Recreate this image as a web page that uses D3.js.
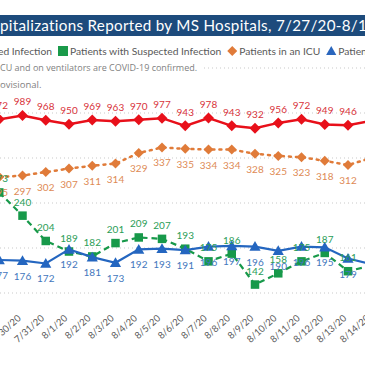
<!DOCTYPE html>
<html lang="en">
<head>
<meta charset="UTF-8">
<title>COVID-19 Hospitalizations</title>
<script src="https://d3js.org/d3.v7.min.js"></script>
<style>
    body { margin: 0; background: #fff; }
    svg { display: block; font-family: Lato, "Open Sans", sans-serif; }
    .grid line { stroke: #c9c9c9; stroke-width: 1; stroke-dasharray: 1,3; }
    .xlab { font-size: 9.5px; fill: #595959; }
    .vlab { font-size: 10px; text-anchor: middle; }
</style>
</head>
<body>
<svg width="365" height="365"></svg>
<script>
// data (7/27 and 7/28 are cropped off the left edge)
const dates = ["7/29/20", "7/30/20", "7/31/20", "8/1/20", "8/2/20", "8/3/20", "8/4/20", "8/5/20",
    "8/6/20", "8/7/20", "8/8/20", "8/9/20", "8/10/20", "8/11/20", "8/12/20", "8/13/20", "8/14/20"];
const confirmed = [972, 989, 968, 950, 969, 963, 970, 977, 943, 978, 943, 932, 956, 972, 949, 946, 965];
const suspected = [273, 240, 204, 189, 182, 201, 209, 207, 193, 175, 186, 142, 158, 175, 187, 161, 169];
const icu = [295, 297, 302, 307, 311, 314, 329, 337, 335, 334, 334, 328, 325, 323, 318, 312, 322];
const vent = [177, 176, 172, 192, 181, 173, 192, 193, 191, 196, 197, 196, 190, 196, 195, 179, 171];
const gridTicks = [200, 400, 600, 800, 1000, 1200];

const titleText = "COVID-19 Hospitalizations Reported by MS Hospitals, 7/27/20-8/16/20";
const noteText = "*Patients in an ICU and on ventilators are COVID-19 confirmed.";
const provText = "Data for the most recent dates are provisional.";
const legendItems = [
    {label: "Patients with Confirmed Infection", shape: "circle", color: "#e3191c"},
    {label: "Patients with Suspected Infection", shape: "square", color: "#1a9a4a"},
    {label: "Patients in an ICU", shape: "diamond", color: "#e07b39"},
    {label: "Patients on Ventilators", shape: "triangle", color: "#2a66bd"}
];

const svg = d3.select("svg");
const W = 365;

// scales: confirmed on the primary axis, the others on the secondary axis
const x = d3.scalePoint().domain(dates).range([-0.75, 371.25]);
const yL = d3.scaleLinear().domain([200, 1200]).range([293, 68]);
const yR = d3.scaleLinear().domain([130, 450]).range([293, 68]);

// helper: shift a text so that a substring starts at targetX (chart is cropped)
function startAt(sel, sub, targetX) {
    const node = sel.node();
    const idx = node.textContent.indexOf(sub);
    const off = idx > 0 ? node.getSubStringLength(0, idx) : 0;
    sel.attr("x", targetX - off);
}

// title bar
svg.append("rect").attr("x", 0).attr("y", 15).attr("width", W).attr("height", 21).attr("fill", "#1d4b7c");
const title = svg.append("text").attr("y", 31).attr("fill", "#fff")
    .style("font-size", "15.2px").style("letter-spacing", "0.3px").text(titleText);
startAt(title, "pitalizations", 0);

// gridlines
svg.append("g").attr("class", "grid")
  .selectAll("line").data(gridTicks).join("line")
    .attr("x1", 0).attr("x2", W)
    .attr("y1", d => yL(d)).attr("y2", d => yL(d));

// note and provisional text
const note = svg.append("text").attr("y", 71).attr("fill", "#7f7f7f")
    .style("font-family", "'Open Sans', sans-serif").style("font-size", "9px").text(noteText);
startAt(note, "CU and", 0);
const nb = note.node().getBBox();
svg.insert("rect", "text:last-of-type").attr("x", nb.x).attr("y", nb.y)
    .attr("width", nb.width + 4).attr("height", nb.height).attr("fill", "#fff");
note.raise();
const prov = svg.append("text").attr("y", 88).attr("fill", "#7f7f7f")
    .style("font-family", "'Open Sans', sans-serif").style("font-size", "9.5px").text(provText);
startAt(prov, "ovisional", 0);

// legend
function marker(g, shape, color, cx, cy, s) {
    if (shape === "circle") g.append("circle").attr("cx", cx).attr("cy", cy).attr("r", s / 2).attr("fill", color);
    else if (shape === "square") g.append("rect").attr("x", cx - s / 2).attr("y", cy - s / 2).attr("width", s).attr("height", s).attr("fill", color);
    else if (shape === "diamond") g.append("path").attr("d", d3.symbol().type(d3.symbolSquare).size(s * s * 0.5)()).attr("transform", `translate(${cx},${cy}) rotate(45)`).attr("fill", color);
    else g.append("path").attr("d", d3.symbol().type(d3.symbolTriangle).size(s * s * 0.45)()).attr("transform", `translate(${cx},${cy + 1})`).attr("fill", color);
}
const legend = svg.append("g");
let lx = 0;
const markerX = [];
legendItems.forEach(it => {
    markerX.push(lx + 5);
    marker(legend, it.shape, it.color, lx + 5, 51, 10);
    const t = legend.append("text").attr("x", lx + 12).attr("y", 55).attr("fill", "#595959")
        .style("font-size", "10.3px").text(it.label);
    lx += 12 + t.node().getComputedTextLength() + 6;
});
legend.attr("transform", `translate(${63 - markerX[1]},0)`);

// series
const series = [
    {values: confirmed, y: yL, color: "#e8101a", lab: "#d8323a", shape: "diamond", size: 11, dash: null, width: 2.5, above: true},
    {values: icu, y: yR, color: "#e07b39", lab: "#de8a55", shape: "diamond", size: 10, dash: "2,5", width: 2.5, above: false},
    {values: suspected, y: yR, color: "#17994a", lab: "#2a9d57", shape: "square", size: 8.5, dash: "6,4", width: 2.2, above: true},
    {values: vent, y: yR, color: "#2466c0", lab: "#4377bd", shape: "triangle", size: 11, dash: null, width: 2.2, above: false}
];

series.forEach(s => {
    const pts = dates.map((d, i) => ({d, v: s.values[i]}));
    svg.append("path").datum(pts)
        .attr("fill", "none").attr("stroke", s.color).attr("stroke-width", s.width)
        .attr("stroke-dasharray", s.dash).attr("stroke-linecap", s.dash === "2,5" ? "round" : "butt")
        .attr("d", d3.line().x(p => x(p.d)).y(p => s.y(p.v)));
    const mg = svg.append("g");
    pts.forEach(p => marker(mg, s.shape, s.color, x(p.d), s.y(p.v), s.size));
});

series.forEach(s => {
    svg.append("g").selectAll("text")
        .data(dates.map((d, i) => ({d, v: s.values[i]})).filter(p => x(p.d) < W - 4))
        .join("text").attr("class", "vlab")
        .attr("x", p => x(p.d))
        .attr("y", p => s.y(p.v) + (s.above ? -10 : 19))
        .attr("fill", s.lab)
        .text(p => p.v);
});

// x axis labels
svg.append("g").selectAll("text").data(dates).join("text")
    .attr("class", "xlab")
    .attr("text-anchor", "end")
    .attr("transform", d => `translate(${x(d) - 1},319) rotate(-42)`)
    .text(d => d);
</script>
</body>
</html>
